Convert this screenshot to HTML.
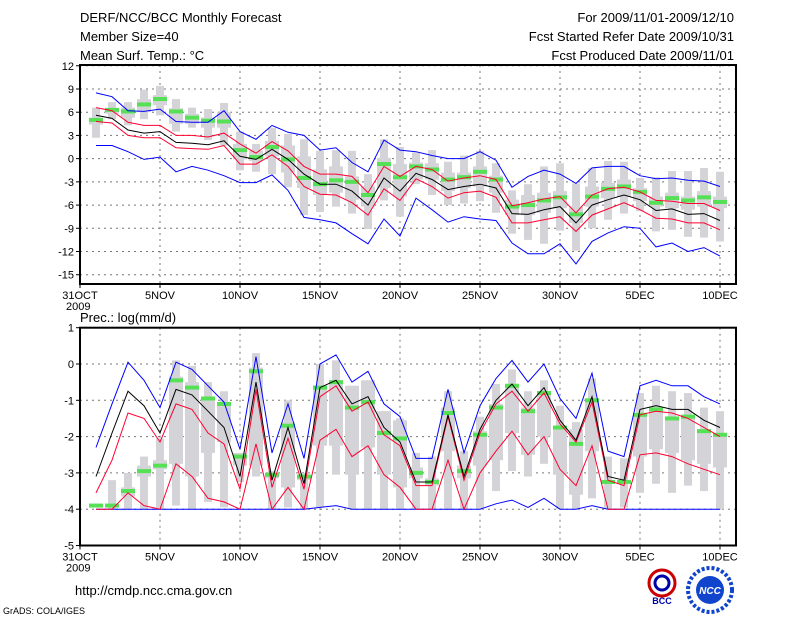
<!DOCTYPE html>
<html><head><meta charset="utf-8"><style>
html,body{margin:0;padding:0;background:#fff;width:800px;height:618px;overflow:hidden}
svg{display:block;font-family:"Liberation Sans",sans-serif}
</style></head><body>
<svg id="c" width="800" height="618" viewBox="0 0 800 618">
<g font-size="13" fill="#000">
<text x="80" y="22">DERF/NCC/BCC Monthly Forecast</text>
<text x="80" y="41">Member Size=40</text>
<text x="80" y="60">Mean Surf. Temp.: °C</text>
<text x="734" y="22" text-anchor="end">For 2009/11/01-2009/12/10</text>
<text x="734" y="41" text-anchor="end">Fcst Started Refer Date 2009/10/31</text>
<text x="734" y="60" text-anchor="end">Fcst Produced Date 2009/11/01</text>
<text x="80" y="322">Prec.: log(mm/d)</text>
<text x="75" y="595">http://cmdp.ncc.cma.gov.cn</text>
<text x="3" y="614" font-size="9">GrADS: COLA/IGES</text>
</g>
<g>
<circle cx="662" cy="583" r="13" fill="none" stroke="#c00" stroke-width="3"/>
<circle cx="662" cy="583" r="7" fill="none" stroke="#00a" stroke-width="3"/>
<text x="662" y="604" font-size="9" text-anchor="middle" fill="#00a" font-weight="bold">BCC</text>
</g>
<g>
<circle cx="710" cy="590" r="22" fill="#fff" stroke="#14c" stroke-width="4" stroke-dasharray="3 2"/>
<circle cx="710" cy="590" r="14" fill="#14c"/>
<text x="710" y="594" font-size="10" text-anchor="middle" fill="#fff" font-style="italic" font-weight="bold">NCC</text>
</g>
</svg>
<script>
// ---- Temperature panel data (days 1..40 = Nov1..Dec10)
const days = Array.from({length:40},(_,i)=>i+1);
const xTickLabels = ["31OCT","5NOV","10NOV","15NOV","20NOV","25NOV","30NOV","5DEC","10DEC"];
const tTicks = [12,9,6,3,0,-3,-6,-9,-12,-15];
const pTicks = [1,0,-1,-2,-3,-4,-5];
const tMax = [8.5,8.0,6.2,6.1,6.4,4.8,4.7,4.7,6.2,3.5,2.5,4.3,3.4,3.0,1.1,1.4,-0.5,-1.7,2.4,1.1,0.9,0.4,0,0,0.9,-0.2,-3.7,-2.3,-1.5,-2.0,-3.2,-1.2,-1.0,-1.0,-2.2,-2.6,-2.5,-2.8,-2.9,-3.6];
const tMin = [1.7,1.7,0.9,-0.1,0.2,-1.7,-1.0,-1.5,-2.2,-3.1,-3.1,-2.1,-4.1,-7.6,-7.9,-8.3,-9.7,-11.0,-7.8,-10.0,-5.1,-6.6,-8.2,-7.5,-7.8,-8.0,-10.9,-12.3,-12.3,-11.0,-13.6,-10.7,-9.6,-8.8,-9.0,-11.4,-10.9,-12.0,-11.5,-12.6];
const tRedHi = [6.6,6.2,4.7,4.3,4.3,3.0,3.0,2.8,3.3,1.9,0.7,2.2,1.0,-1.0,-2.0,-2.0,-2.3,-4.4,-1.0,-2.3,-1.0,-1.4,-2.9,-2.5,-2.2,-2.7,-6.1,-5.7,-5.2,-4.9,-7.0,-4.7,-3.9,-3.7,-4.3,-5.4,-5.5,-5.8,-5.8,-6.7];
const tRedLo = [4.8,4.6,3.0,2.7,2.7,1.4,1.3,1.2,1.7,-0.7,-0.7,0.5,-1.0,-3.6,-4.6,-4.7,-5.7,-7.3,-3.9,-5.4,-2.6,-3.6,-5.1,-4.4,-4.2,-5.0,-8.3,-8.3,-7.9,-7.5,-9.4,-7.3,-6.5,-5.7,-6.6,-7.7,-7.8,-8.3,-8.3,-9.2];
const tMean = [5.6,5.2,3.7,3.3,3.5,2.1,2.0,1.8,2.3,0.3,-0.1,1.2,-0.1,-2.0,-3.3,-3.3,-4.2,-6.0,-2.5,-4.2,-1.9,-2.7,-4.0,-3.6,-3.3,-3.8,-7.1,-7.2,-6.6,-6.2,-8.3,-6.0,-5.3,-4.7,-5.3,-6.7,-6.5,-7.2,-7.1,-8.0];
const tGreen = [5.0,6.3,6.1,7.0,7.7,6.1,5.3,4.9,4.8,1.1,0.2,1.5,-0.1,-2.5,-3.3,-2.8,-3.0,-4.7,-0.7,-2.4,-1.0,-1.4,-2.7,-2.4,-1.7,-2.7,-6.2,-6.0,-5.4,-5.0,-7.2,-4.9,-3.9,-3.6,-4.3,-5.7,-5.1,-5.4,-5.0,-5.6];
const tRangeHi = [6.6,7.3,7.3,8.9,9.4,7.7,6.6,6.4,7.2,3.5,1.9,4.0,3.2,2.5,1.0,1.1,1.0,-2.0,2.5,1.5,0.8,1.1,-0.4,0.4,1.0,-0.6,-4.1,-3.3,-1.0,-0.6,-3.2,-1.2,-0.3,-0.4,-2.5,-2.4,-1.6,-1.6,-1.2,-1.7];
const tRangeLo = [2.7,5.1,4.3,5.1,5.6,3.5,4.0,2.4,1.7,-1.5,-1.7,-2.0,-3.7,-7.3,-6.9,-6.2,-7.1,-9.1,-5.4,-7.5,-3.3,-4.7,-6.0,-5.8,-5.5,-7.0,-9.7,-10.5,-11.0,-9.3,-11.9,-9.0,-7.9,-7.1,-6.8,-9.4,-9.2,-10.1,-10.2,-10.7];
const tBoxHi = [5.3,6.5,6.6,7.7,8.2,6.5,5.8,5.3,6.0,1.9,1.0,2.3,1.7,0.3,-1.4,-1.0,-2.3,-3.6,0.1,-0.7,-0.5,-0.6,-1.8,-1.8,-1.0,-2.2,-5.3,-4.7,-4.4,-4.2,-6.2,-3.6,-3.1,-2.7,-3.8,-4.9,-4.4,-4.9,-4.2,-4.9];
const tBoxLo = [4.4,5.8,5.3,6.0,6.9,4.5,4.5,4.0,4.0,-0.1,-0.3,0.3,-1.8,-3.8,-4.7,-4.4,-5.3,-6.2,-3.8,-4.9,-2.7,-2.7,-4.2,-3.8,-3.6,-4.4,-7.3,-7.3,-7.0,-6.4,-8.3,-6.2,-5.1,-4.9,-5.5,-6.2,-6.4,-6.6,-6.2,-6.4];
// ---- Precipitation panel data
const pMax = [-2.3,-1.1,0.05,-0.45,-1.2,0.05,-0.15,-0.6,-1.05,-2.35,0.2,-2.45,-1.1,-2.6,0,0.25,-0.5,-0.2,-1.1,-1.45,-2.6,-2.6,-0.7,-2.45,-1.15,-0.4,0.1,-0.5,0.0,-0.95,-1.5,-0.25,-2.4,-2.55,-0.6,-0.45,-0.6,-0.6,-0.9,-1.1];
const pMin = [-4,-4,-4,-4,-4,-4,-4,-4,-4,-4,-4,-4,-4,-4,-3.95,-3.9,-4,-4,-4,-4,-4,-4,-4,-4,-4,-3.85,-3.75,-3.95,-3.7,-4,-4,-3.9,-4,-4,-4,-4,-4,-4,-4,-4];
const pRedHi = [-3.55,-2.65,-1.35,-1.5,-2.15,-1.1,-1.25,-1.9,-2.2,-3.45,-0.7,-3.4,-2.05,-3.45,-0.9,-0.6,-1.3,-1.05,-1.95,-2.25,-3.35,-3.35,-1.45,-3.2,-1.9,-1.1,-0.75,-1.3,-0.8,-1.65,-2.15,-1.05,-3.2,-3.35,-1.4,-1.3,-1.35,-1.5,-1.75,-2.0];
const pRedLo = [-4,-4,-3.55,-3.9,-4,-2.75,-3.1,-3.7,-3.8,-4,-2.2,-4,-3.4,-4,-2.1,-1.8,-2.55,-2.25,-3.05,-3.4,-4,-4,-2.65,-4,-3.0,-2.4,-1.85,-2.5,-2.0,-2.9,-3.35,-2.25,-4,-4,-2.5,-2.45,-2.55,-2.75,-2.9,-3.05];
const pMean = [-3.1,-1.9,-0.75,-1.15,-1.9,-0.7,-0.85,-1.3,-1.75,-3.1,-0.5,-3.2,-1.75,-3.3,-0.65,-0.45,-1.1,-0.9,-1.75,-2.15,-3.25,-3.25,-1.4,-3.1,-1.8,-1.0,-0.55,-1.15,-0.65,-1.55,-2.1,-0.9,-3.1,-3.2,-1.25,-1.15,-1.25,-1.25,-1.55,-1.75];
const pGreen = [-3.9,-3.9,-3.5,-2.95,-2.8,-0.45,-0.65,-0.95,-1.1,-2.55,-0.2,-3.05,-1.7,-3.1,-0.65,-0.5,-1.2,-1.05,-1.9,-2.05,-3.0,-3.25,-1.35,-2.95,-1.95,-1.2,-0.6,-1.3,-0.8,-1.75,-2.2,-1.0,-3.25,-3.25,-1.4,-1.25,-1.5,-1.45,-1.85,-1.95];
const pRangeHi = [-4,-3.2,-3.0,-2.55,-2.05,0.1,-0.05,-0.5,-0.75,-2.45,0.3,-2.95,-1.0,-3.0,0,0.1,-0.6,-0.45,-1.3,-1.5,-2.45,-2.55,-0.75,-2.4,-1.45,-0.55,-0.15,-0.75,-0.45,-1.15,-1.6,-0.4,-2.55,-2.6,-0.8,-0.6,-0.75,-0.8,-1.2,-1.3];
const pRangeLo = [-4,-4,-4,-4,-4,-3.9,-4,-3.8,-3.95,-3.25,-3.1,-4,-3.95,-4,-3.95,-3.05,-4,-4,-4,-4,-4,-4,-4,-4,-4,-3.5,-2.95,-3.1,-2.75,-4,-4,-3.7,-4,-3.95,-3.55,-3.3,-3.55,-3.35,-3.5,-4];
const pBoxHi = [-4,-3.2,-3.4,-2.8,-2.65,-0.35,-0.5,-0.9,-1.05,-2.45,-0.1,-3.0,-1.6,-3.05,-0.6,-0.45,-0.6,-0.45,-1.3,-1.55,-2.85,-3.15,-1.2,-2.8,-1.85,-1.1,-0.6,-1.2,-0.75,-1.75,-1.8,-1.0,-3.2,-3.2,-1.35,-1.25,-1.45,-1.45,-1.8,-1.9];
const pBoxLo = [-4,-3.2,-3.65,-3.1,-2.9,-2.75,-3.1,-2.45,-2.15,-2.8,-2.8,-3.15,-3.4,-3.2,-2.25,-2.25,-3.05,-2.3,-3.05,-3.4,-3.15,-3.35,-2.4,-3.15,-2.8,-2.65,-1.9,-2.5,-2.0,-3.05,-3.6,-2.4,-3.3,-3.3,-2.55,-2.35,-2.45,-2.65,-2.75,-2.85];

const NS='http://www.w3.org/2000/svg';
const svg=document.getElementById('c');
const xOf = d => 80 + 16*d;
function mk(tag, attrs, parent){const e=document.createElementNS(NS,tag);for(const k in attrs)e.setAttribute(k,attrs[k]);(parent||svg).appendChild(e);return e;}

function panel(name, top, bottom, vTop, vBot, ticks, S){
  const yOf = v => top + (vTop - v)/(vTop - vBot)*(bottom - top);
  const g = mk('g',{});
  
  
  ticks.forEach(t=>{ if(t===vTop||t===vBot)return;
    const l=mk('line',{x1:80,x2:736,y1:yOf(t),y2:yOf(t),stroke:'#777','stroke-dasharray':'2 4','stroke-width':1},g);
    
    
  });
  for(let i=1;i<xTickLabels.length;i++){
    const l=mk('line',{x1:xOf(i*5),x2:xOf(i*5),y1:top,y2:bottom,stroke:'#777','stroke-dasharray':'2 4','stroke-width':1},g);
    
    
  }
  days.forEach((d,i)=>{
    const x=xOf(d);
    const r1=mk('rect',{x:x-4,y:yOf(S.rHi[i]),width:8,height:Math.max(0,yOf(S.rLo[i])-yOf(S.rHi[i])),fill:'#d4d4d8'},g);
    
    
    const r2=mk('rect',{x:x-7,y:yOf(S.bHi[i]),width:14,height:Math.max(0,yOf(S.bLo[i])-yOf(S.bHi[i])),fill:'#d4d4d8'},g);
    
    
  });
  days.forEach((d,i)=>{
    const gr=mk('rect',{x:xOf(d)-7,y:yOf(S.green[i])-2,width:14,height:4,fill:'#55e055'},g);
    
    
  });
  const lines=[[S.max,'#0000ff','max-line'],[S.min,'#0000ff','min-line'],[S.redHi,'#ff0030','upper-spread-line'],[S.redLo,'#ff0030','lower-spread-line'],[S.mean,'#000','ensemble-mean-line']];
  lines.forEach(([arr,col,nm])=>{
    const p=mk('polyline',{points:arr.map((v,i)=>xOf(days[i])+','+yOf(v).toFixed(1)).join(' '),fill:'none',stroke:col,'stroke-width':1},g);
    
    
  });
  const fr=mk('rect',{x:80,y:top,width:656,height:bottom-top,fill:'none',stroke:'#000','stroke-width':2},g);
  
  
  ticks.forEach(t=>{
    const tx=mk('text',{x:74,y:yOf(t)+4,'text-anchor':'end','font-size':11},g);
    tx.textContent=t;
    
    
    const tk=mk('line',{x1:76,x2:80,y1:yOf(t),y2:yOf(t),stroke:'#000'},g);
    
    
  });
  xTickLabels.forEach((lab,i)=>{
    const x=xOf(i*5);
    const tk=mk('line',{x1:x,x2:x,y1:bottom,y2:bottom+4,stroke:'#000'},g);
    
    
    const tx=mk('text',{x:x,y:bottom+15,'text-anchor':'middle','font-size':11},g);
    tx.textContent=lab;
    
    
  });
  const yr=mk('text',{x:66,y:bottom+26,'font-size':11},g);
  yr.textContent='2009';
  
  
}
panel('temperature-panel',65,284,12.1,-16.2,tTicks,{max:tMax,min:tMin,redHi:tRedHi,redLo:tRedLo,mean:tMean,green:tGreen,rHi:tRangeHi,rLo:tRangeLo,bHi:tBoxHi,bLo:tBoxLo});
panel('precipitation-panel',327.7,545.5,1,-5,pTicks,{max:pMax,min:pMin,redHi:pRedHi,redLo:pRedLo,mean:pMean,green:pGreen,rHi:pRangeHi,rLo:pRangeLo,bHi:pBoxHi,bLo:pBoxLo});
</script>
</body></html>
